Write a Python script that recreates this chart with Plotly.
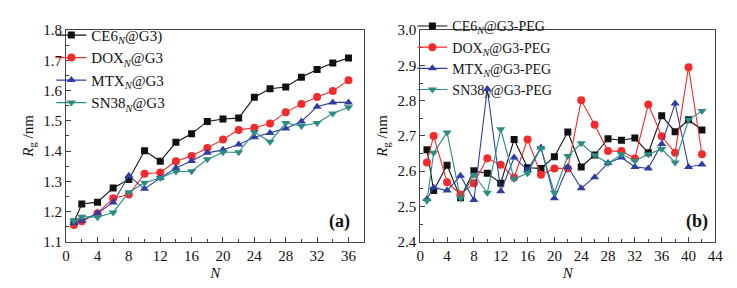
import plotly.graph_objects as go

# ---------------- data: panel (a) ----------------
n_a = [1, 2, 4, 6, 8, 10, 12, 14, 16, 18, 20, 22, 24, 26, 28, 30, 32, 34, 36]
ce6_g3 = [1.165, 1.225, 1.231, 1.278, 1.306, 1.401, 1.366, 1.429, 1.457, 1.498, 1.506, 1.509,
          1.578, 1.606, 1.612, 1.644, 1.670, 1.691, 1.708]
dox_g3 = [1.155, 1.168, 1.194, 1.244, 1.256, 1.325, 1.329, 1.366, 1.384, 1.410, 1.438, 1.470,
          1.477, 1.491, 1.528, 1.556, 1.579, 1.599, 1.634]
mtx_g3 = [1.162, 1.169, 1.194, 1.230, 1.318, 1.275, 1.311, 1.344, 1.367, 1.394, 1.404, 1.422,
          1.446, 1.460, 1.475, 1.498, 1.547, 1.561, 1.561]
sn38_g3 = [1.169, 1.183, 1.181, 1.197, 1.264, 1.295, 1.311, 1.332, 1.333, 1.373, 1.396, 1.396,
           1.462, 1.431, 1.493, 1.483, 1.493, 1.524, 1.545]

# ---------------- data: panel (b) ----------------
n_b = [1, 2, 4, 6, 8, 10, 12, 14, 16, 18, 20, 22, 24, 26, 28, 30, 32, 34, 36, 38, 40, 42]
ce6_peg = [2.661, 2.545, 2.617, 2.525, 2.601, 2.594, 2.566, 2.690, 2.610, 2.608, 2.641, 2.711,
           2.612, 2.646, 2.692, 2.688, 2.694, 2.652, 2.757, 2.712, 2.746, 2.717]
dox_peg = [2.625, 2.700, 2.569, 2.534, 2.566, 2.637, 2.618, 2.582, 2.690, 2.590, 2.608, 2.608,
           2.801, 2.732, 2.657, 2.657, 2.636, 2.789, 2.699, 2.652, 2.895, 2.648]
mtx_peg = [2.521, 2.554, 2.545, 2.587, 2.518, 2.833, 2.543, 2.639, 2.603, 2.667, 2.523, 2.612,
           2.552, 2.583, 2.623, 2.639, 2.612, 2.608, 2.677, 2.792, 2.612, 2.619]
sn38_peg = [2.516, 2.652, 2.710, 2.523, 2.590, 2.539, 2.719, 2.578, 2.594, 2.666, 2.539, 2.643,
            2.679, 2.645, 2.623, 2.648, 2.630, 2.648, 2.663, 2.625, 2.746, 2.771]

names_a = ["CE6<sub><i>N</i></sub>@G3)", "DOX<sub><i>N</i></sub>@G3",
           "MTX<sub><i>N</i></sub>@G3", "SN38<sub><i>N</i></sub>@G3"]
names_b = ["CE6<sub><i>N</i></sub>@G3-PEG", "DOX<sub><i>N</i></sub>@G3-PEG",
           "MTX<sub><i>N</i></sub>@G3-PEG", "SN38<sub><i>N</i></sub>@G3-PEG"]

colors = ["#111111", "#f52a2a", "#2f3ea6", "#2a8c82"]
symbols = ["square", "circle", "triangle-up", "triangle-down"]
msizes = [7, 8, 8, 8]

FONT = "Liberation Serif, Times New Roman, serif"

fig = go.Figure()

series_a = [ce6_g3, dox_g3, mtx_g3, sn38_g3]
series_b = [ce6_peg, dox_peg, mtx_peg, sn38_peg]

for i, ys in enumerate(series_a):
    fig.add_trace(go.Scatter(
        x=n_a, y=ys, name=names_a[i], mode="lines+markers",
        line=dict(color=colors[i], width=1.1),
        marker=dict(symbol=symbols[i], size=msizes[i], color=colors[i]),
        xaxis="x", yaxis="y", legend="legend", legendgroup="a%d" % i))

for i, ys in enumerate(series_b):
    fig.add_trace(go.Scatter(
        x=n_b, y=ys, name=names_b[i], mode="lines+markers",
        line=dict(color=colors[i], width=1.1),
        marker=dict(symbol=symbols[i], size=msizes[i], color=colors[i]),
        xaxis="x2", yaxis="y2", legend="legend2", legendgroup="b%d" % i))

W, H = 737, 288
ytop, ybot = 15, 239
ydom = [1 - ybot / H, 1 - ytop / H]

axis_common = dict(
    showline=True, mirror=True, linecolor="#444444", linewidth=1,
    ticks="inside", ticklen=5, tickcolor="#444444", tickwidth=1,
    showgrid=False, zeroline=False,
    tickfont=dict(family=FONT, size=15, color="#111111"),
)

ytitle = "<i>R</i><sub>g</sub> /nm"

fig.update_layout(
    width=W, height=H,
    margin=dict(l=0, r=0, t=0, b=0),
    paper_bgcolor="white", plot_bgcolor="white",
    font=dict(family=FONT, size=15, color="#111111"),
    xaxis=dict(domain=[55 / W, 358 / W], range=[0, 38], dtick=4, tick0=0,
               minor=dict(dtick=2, ticks="inside", ticklen=3, tickcolor="#444444"),
               title=dict(text="<i>N</i>", standoff=4, font=dict(family=FONT, size=15)),
               anchor="y", **axis_common),
    yaxis=dict(domain=ydom, range=[1.1, 1.8], dtick=0.1, tick0=1.1, tickformat=".1f",
               minor=dict(dtick=0.05, ticks="inside", ticklen=3, tickcolor="#444444"),
               title=dict(text=ytitle, standoff=6, font=dict(family=FONT, size=15)),
               anchor="x", **axis_common),
    xaxis2=dict(domain=[415 / W, 715 / W], range=[0, 44], dtick=4, tick0=0,
                minor=dict(dtick=2, ticks="inside", ticklen=3, tickcolor="#444444"),
                title=dict(text="<i>N</i>", standoff=4, font=dict(family=FONT, size=15)),
                anchor="y2", **axis_common),
    yaxis2=dict(domain=ydom, range=[2.4, 3.0], dtick=0.1, tick0=2.4, tickformat=".1f",
                minor=dict(dtick=0.05, ticks="inside", ticklen=3, tickcolor="#444444"),
                title=dict(text=ytitle, standoff=6, font=dict(family=FONT, size=15)),
                anchor="x2", **axis_common),
    legend=dict(x=40 / W, y=1 - 3 / H, xanchor="left", yanchor="top",
                bgcolor="rgba(0,0,0,0)", borderwidth=0, tracegroupgap=0,
                font=dict(family=FONT, size=15, color="#111111")),
    legend2=dict(x=407 / W, y=1 + 6 / H, xanchor="left", yanchor="top",
                 bgcolor="rgba(0,0,0,0)", borderwidth=0, tracegroupgap=0,
                 font=dict(family=FONT, size=14, color="#111111")),
    showlegend=True,
    annotations=[
        dict(text="<b>(a)</b>", xref="x domain", yref="y domain", x=0.96, y=0.035,
             xanchor="right", yanchor="bottom", showarrow=False,
             font=dict(family=FONT, size=18, color="#111111")),
        dict(text="<b>(b)</b>", xref="x2 domain", yref="y2 domain", x=0.983, y=0.035,
             xanchor="right", yanchor="bottom", showarrow=False,
             font=dict(family=FONT, size=18, color="#111111")),
    ],
)

fig.write_html("out.html")
